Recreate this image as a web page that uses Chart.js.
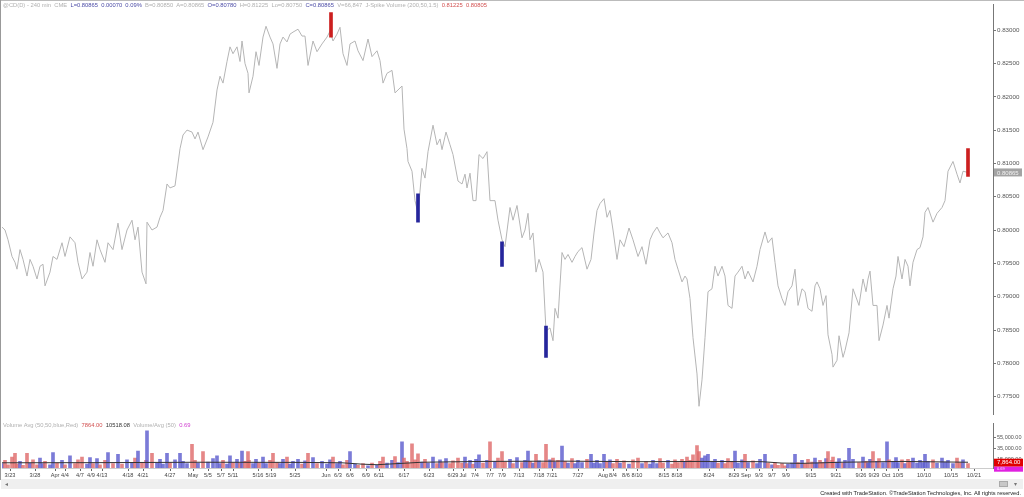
<!DOCTYPE html>
<html>
<head>
<meta charset="utf-8">
<script src="https://cdn.jsdelivr.net/npm/chart.js@4.4.0/dist/chart.umd.min.js"></script>
<style>
body { margin: 0; background: #fff; font-family: 'Liberation Sans', Arial, sans-serif; }
#wrap { position: relative; width: 1024px; height: 497px; overflow: hidden; }
canvas { position: absolute; left: 0; }
#price { top: 0; }
#vol { top: 419px; }
.hdr { position: absolute; left: 3px; font-size: 5.8px; line-height: 8px; white-space: pre; color: #b0b0b0; }
.bl { color: #4b4ba6; }
.rd { color: #d25050; }
.dk { color: #333; }
.mg { color: #d040d0; }
#lborder { position: absolute; left: 0; top: 0; width: 1px; height: 480px; background: #999; }
#tborder { position: absolute; left: 0; top: 0; width: 1024px; height: 1px; background: #bbb; }
#strip { position: absolute; left: 1px; top: 479px; width: 1022px; height: 10px; background: #efefef; }
#strip .ic { position: absolute; left: 998px; top: 2px; width: 9px; height: 6px; background: #c8c8c8; border: 1px solid #aaa; box-sizing: border-box; }
#strip .ar { position: absolute; font-size: 6px; line-height: 10px; color: #777; }
#footer { position: absolute; right: 3px; top: 489px; font-size: 5.7px; line-height: 8px; color: #222; }
</style>
</head>
<body>
<div id="wrap">
  <canvas id="price" width="1024" height="419"></canvas>
  <canvas id="vol" width="1024" height="63"></canvas>
  <div id="tborder"></div>
  <div id="lborder"></div>
  <div class="hdr" style="top:1px">@CD(D) - 240 min  CME  <span class="bl">L=0.80865  0.00070  0.09%</span>  B=0.80850  A=0.80865  <span class="bl">O=0.80780</span>  H=0.81225  Lo=0.80750  <span class="bl">C=0.80865</span>  V=66,847  J-Spike Volume (200,50,1.5)  <span class="rd">0.81225  0.80805</span></div>
  <div class="hdr" style="top:421px">Volume Avg (50,50,blue,Red)  <span class="rd">7864.00</span>  <span class="dk">10518.08</span>  Volume/Avg (50)  <span class="mg">0.69</span></div>
  <div id="strip"><span class="ar" style="left:4px">◂</span><div class="ic"></div><span class="ar" style="left:1013px">▾</span></div>
  <div id="footer">Created with TradeStation. ©TradeStation Technologies, Inc. All rights reserved.</div>
</div>
<script>
// 240 min bars, bar number along the x axis
const bars = [0,3,6,10,13,15,18,21,25,28,31,35,38,41,43,48,51,55,60,63,68,73,76,80,85,88,91,95,98,103,
  106,111,116,120,125,130,133,136,140,144,145,150,155,158,161,165,168,173,178,181,185,190,193,196,201,206,211,215,218,221,
  225,228,231,235,238,240,243,246,247,251,254,257,261,264,268,271,275,278,281,285,288,291,296,300,303,306,311,315,320,325,
  328,331,335,338,341,345,348,353,356,361,366,370,375,378,381,385,390,393,396,400,402,405,406,410,413,416,420,423,426,431,
  435,438,440,444,448,451,456,460,463,465,468,471,474,477,481,485,488,493,496,500,503,508,511,515,520,523,526,528,531,534,
  537,541,544,548,551,553,556,560,563,566,570,573,576,580,585,589,592,595,598,602,605,608,611,615,618,622,627,631,636,640,
  644,648,651,655,658,661,666,670,673,676,680,683,685,688,691,695,697,700,703,706,710,713,716,720,723,726,730,733,736,740,
  743,746,751,755,758,763,766,770,773,776,780,783,786,790,793,796,800,803,806,810,813,815,818,821,824,826,830,831,835,837,
  841,843,847,851,857,861,864,866,868,871,875,877,881,885,887,891,894,896,900,903,906,908,911,915,918,921,923,926,931,935,
  940,943,946,951,955,958,961,966];

const closes = [0.80045,0.80001,0.79854,0.79604,0.79516,0.79413,0.79707,0.79560,0.79310,0.79560,0.79457,0.79266,0.79457,0.79487,0.79163,0.79369,0.79604,0.79560,0.79810,0.79604,0.79898,0.79810,0.79516,0.79266,0.79369,0.79663,0.79457,0.79854,0.79707,0.79516,
  0.79810,0.79707,0.80104,0.79707,0.80001,0.80148,0.79854,0.80045,0.79369,0.79193,0.80119,0.80001,0.80045,0.80192,0.80295,0.80692,0.80633,0.80663,0.81221,0.81427,0.81501,0.81471,0.81368,0.81471,0.81207,0.81398,0.81618,0.82103,0.82309,0.82206,
  0.82530,0.82750,0.82647,0.82750,0.82530,0.82838,0.82500,0.82353,0.82059,0.82309,0.82677,0.82471,0.82897,0.83059,0.82897,0.82794,0.82427,0.82794,0.82897,0.82824,0.82941,0.82971,0.83015,0.82912,0.82912,0.82471,0.82838,0.82677,0.82794,0.82897,
  0.82985,0.82838,0.82941,0.83044,0.82647,0.82471,0.82794,0.82838,0.82691,0.82544,0.82868,0.82603,0.82691,0.82544,0.82206,0.82353,0.82397,0.82059,0.82103,0.82162,0.81515,0.81221,0.81030,0.80883,0.80442,0.80251,0.80927,0.80780,0.81177,0.81574,
  0.81280,0.81368,0.81207,0.81471,0.81280,0.81133,0.80736,0.80692,0.80839,0.80633,0.80854,0.80442,0.80442,0.81133,0.81074,0.81177,0.80442,0.80442,0.80148,0.79854,0.79751,0.80339,0.80148,0.80369,0.79884,0.80001,0.80251,0.79854,0.79957,0.79369,
  0.79560,0.79369,0.78487,0.78531,0.78340,0.78825,0.78678,0.79663,0.79560,0.79634,0.79516,0.79604,0.79678,0.79737,0.79413,0.79560,0.79957,0.80295,0.80398,0.80472,0.80192,0.80295,0.80001,0.79560,0.79854,0.79751,0.80031,0.79854,0.79604,0.79751,
  0.79487,0.79854,0.79957,0.80045,0.79957,0.79884,0.79957,0.79810,0.79560,0.79413,0.79222,0.79310,0.79266,0.78972,0.78384,0.77840,0.77355,0.77752,0.78384,0.79075,0.79119,0.79457,0.79310,0.79457,0.79310,0.78869,0.78825,0.79310,0.79369,0.79457,
  0.79266,0.79384,0.79222,0.79457,0.79707,0.79972,0.79810,0.79884,0.79516,0.79163,0.78972,0.78869,0.79075,0.79163,0.79413,0.78869,0.79119,0.79075,0.78825,0.78781,0.79163,0.79222,0.79119,0.78869,0.79016,0.78428,0.78134,0.77943,0.78046,0.78414,
  0.78090,0.78193,0.78458,0.79119,0.78869,0.79266,0.79075,0.79266,0.79384,0.78869,0.78869,0.78340,0.78575,0.78869,0.78678,0.79119,0.79310,0.79604,0.79266,0.79560,0.79457,0.79163,0.79516,0.79707,0.79737,0.79898,0.80266,0.80339,0.80119,0.80251,
  0.80339,0.80442,0.80883,0.81030,0.80839,0.80707,0.80883,0.80865];

// volume in thousands, same bars as closes
const volumesK = [8,14,6,20,27,7,12,5,27,9,15,6,18,8,12,6,28,9,14,6,22,8,15,20,7,19,8,17,6,14,
  28,8,25,7,15,9,18,31,10,14,68,27,9,16,7,27,10,15,27,12,8,43,14,9,30,11,17,22,8,14,
  7,22,10,16,9,31,12,30,14,8,16,9,20,8,14,27,10,8,16,20,7,12,16,7,13,27,19,8,12,7,
  15,20,8,12,6,14,30,7,5,8,4,9,5,12,20,9,14,21,10,48,18,12,9,44,15,26,11,16,9,20,
  8,15,10,17,8,13,18,9,20,8,14,7,16,24,9,14,48,12,18,30,11,16,8,19,10,14,31,12,9,25,
  13,10,43,15,18,11,14,40,12,9,17,8,14,10,16,25,9,14,8,25,11,15,8,16,9,13,7,15,18,8,
  12,7,14,8,17,9,14,7,15,10,16,12,20,14,24,41,30,18,22,25,12,16,9,14,8,17,12,31,9,15,
  25,10,13,8,16,25,9,6,10,5,8,4,7,9,25,10,14,8,16,11,18,9,14,10,17,30,14,20,11,17,
  9,14,36,16,10,20,12,9,16,30,12,17,10,48,15,12,19,10,15,8,16,11,18,9,14,10,25,12,15,9,
  18,11,14,8,18,10,15,7.864];

// 50 bar volume average (thousands)
const avgBars = [0,100,200,300,340,360,375,390,420,480,560,640,700,760,780,800,840,900,966];
const avgK = [9.5,9.8,10.5,10.2,9.5,7.0,6.0,7.5,10.5,12.0,12.5,11.5,12.0,11.5,9.0,8.5,10.5,12.0,10.5];

// J-Spike markers
const spikeBars = [329, 416, 500, 544, 966];
const spikeLo = [0.82897, 0.80118, 0.79456, 0.78088, 0.80805];
const spikeHi = [0.83265, 0.80544, 0.79824, 0.78559, 0.81225];
const spikeKind = ['hi', 'lo', 'lo', 'lo', 'hi'];

const priceTicks = [0.775,0.78,0.785,0.79,0.795,0.80,0.805,0.81,0.815,0.82,0.825,0.83];
const volTicksK = [15, 35, 55];

const dateLabels = ['3/23','3/28','Apr','4/4','4/7','4/9','4/13','4/18','4/21','4/27','May','5/5','5/7','5/11','5/16','5/19','5/25','Jun','6/3','6/6',
  '6/9','6/11','6/17','6/23','6/29','Jul','7/4','7/7','7/9','7/13','7/18','7/21','7/27','Aug','8/4','8/6','8/10','8/15','8/18','8/24',
  '8/29','Sep','9/3','9/7','9/9','9/15','9/21','9/26','9/29','Oct','10/5','10/10','10/15','10/21'];
const dateBars = [8,33,53,63,78,89,100,126,141,168,191,206,219,231,256,269,293,324,336,348,
  364,377,402,427,451,461,473,488,500,517,537,550,576,601,611,624,635,662,675,707,
  732,744,757,770,784,809,834,859,872,884,896,922,949,972];

const FONT = "'Liberation Sans', Arial, sans-serif";
const X_MIN = 0, X_MAX = 991, AXIS_W = 31;

const lastPrice = closes[closes.length - 1];
const lastVol = volumesK[volumesK.length - 1];

const priceBox = {
  id: 'priceBox',
  afterDraw(chart) {
    const ctx = chart.ctx;
    const y = chart.scales.y.getPixelForValue(lastPrice);
    const x = chart.chartArea.right + 1;
    ctx.save();
    ctx.fillStyle = '#a3a3a3';
    ctx.fillRect(x, y - 4, 28, 8);
    ctx.fillStyle = '#f2f2f2';
    ctx.font = '6px ' + FONT;
    ctx.textBaseline = 'middle';
    ctx.fillText(lastPrice.toFixed(5), x + 3, y + 0.5);
    ctx.restore();
  }
};

new Chart(document.getElementById('price'), {
  type: 'line',
  data: {
    datasets: [{
      type: 'line',
      data: bars.map((b, i) => ({ x: b, y: closes[i] })),
      borderColor: '#b5b5b5',
      borderWidth: 1,
      pointRadius: 0,
      tension: 0,
      order: 2
    }, {
      type: 'bar',
      data: spikeBars.map((b, i) => ({ x: b, y: [spikeLo[i], spikeHi[i]] })),
      backgroundColor: spikeKind.map(k => k === 'hi' ? '#cc1f1f' : '#26269c'),
      barThickness: 3,
      grouped: false,
      order: 1
    }]
  },
  options: {
    responsive: false,
    animation: false,
    devicePixelRatio: 1,
    layout: { padding: { left: 2, right: 0, top: 0, bottom: 1 } },
    plugins: { legend: { display: false }, tooltip: { enabled: false } },
    scales: {
      x: { type: 'linear', min: X_MIN, max: X_MAX, offset: false, display: false },
      y: {
        position: 'right',
        min: 0.772353, max: 0.833824,
        afterFit(s) { s.width = AXIS_W; },
        afterBuildTicks(s) { s.ticks = priceTicks.map(v => ({ value: v })); },
        ticks: { callback: v => v.toFixed(5), color: '#555', font: { family: FONT, size: 6.2 }, padding: 1 },
        grid: { drawOnChartArea: false, tickLength: 3, color: '#777' },
        border: { color: '#777' }
      }
    }
  },
  plugins: [priceBox]
});

const volBoxes = {
  id: 'volBoxes',
  afterDraw(chart) {
    const ctx = chart.ctx;
    const y = chart.scales.y.getPixelForValue(lastVol);
    const x = chart.chartArea.right + 1;
    ctx.save();
    ctx.fillStyle = '#e00000';
    ctx.fillRect(x, y - 5, 29, 8);
    ctx.fillStyle = '#ffffff';
    ctx.font = '6px ' + FONT;
    ctx.textBaseline = 'middle';
    ctx.fillText((lastVol * 1000).toLocaleString('en-US', { minimumFractionDigits: 2 }), x + 3, y - 1);
    ctx.fillStyle = '#e020e0';
    ctx.fillRect(x, y + 3, 29, 5);
    ctx.fillStyle = '#ffe0ff';
    ctx.font = '4px ' + FONT;
    ctx.fillText('0.69', x + 3, y + 5.5);
    ctx.restore();
  }
};

new Chart(document.getElementById('vol'), {
  type: 'bar',
  data: {
    datasets: [{
      type: 'bar',
      data: bars.map((b, i) => ({ x: b, y: volumesK[i] })),
      backgroundColor: closes.map((c, i) => (i === 0 || c >= closes[i - 1]) ? 'rgba(90,90,205,0.8)' : 'rgba(222,105,105,0.8)'),
      barThickness: 3,
      grouped: false,
      order: 2
    }, {
      type: 'line',
      data: avgBars.map((b, i) => ({ x: b, y: avgK[i] })),
      borderColor: '#333',
      borderWidth: 1,
      pointRadius: 0,
      order: 1
    }]
  },
  options: {
    responsive: false,
    animation: false,
    devicePixelRatio: 1,
    layout: { padding: { left: 2, right: 0, top: 1, bottom: 0 } },
    plugins: { legend: { display: false }, tooltip: { enabled: false } },
    scales: {
      x: {
        type: 'linear', min: X_MIN, max: X_MAX, offset: false,
        afterFit(s) { s.height = 14; },
        afterBuildTicks(s) { s.ticks = dateBars.map(v => ({ value: v })); },
        ticks: {
          autoSkip: false, maxRotation: 0, padding: 1,
          callback: (v, i) => dateLabels[i],
          color: '#444', font: { family: FONT, size: 5.6 }
        },
        grid: { drawOnChartArea: false, tickLength: 3, color: '#666', offset: false },
        border: { color: '#ccc' }
      },
      y: {
        position: 'right',
        min: 0, max: 81.6,
        afterFit(s) { s.width = AXIS_W; },
        afterBuildTicks(s) { s.ticks = volTicksK.map(v => ({ value: v })); },
        ticks: {
          callback: v => (v * 1000).toLocaleString('en-US', { minimumFractionDigits: 2 }),
          color: '#555', font: { family: FONT, size: 5.5 }, padding: 1
        },
        grid: { drawOnChartArea: false, tickLength: 3, color: '#777' },
        border: { color: '#777' }
      }
    }
  },
  plugins: [volBoxes]
});
</script>
</body>
</html>
